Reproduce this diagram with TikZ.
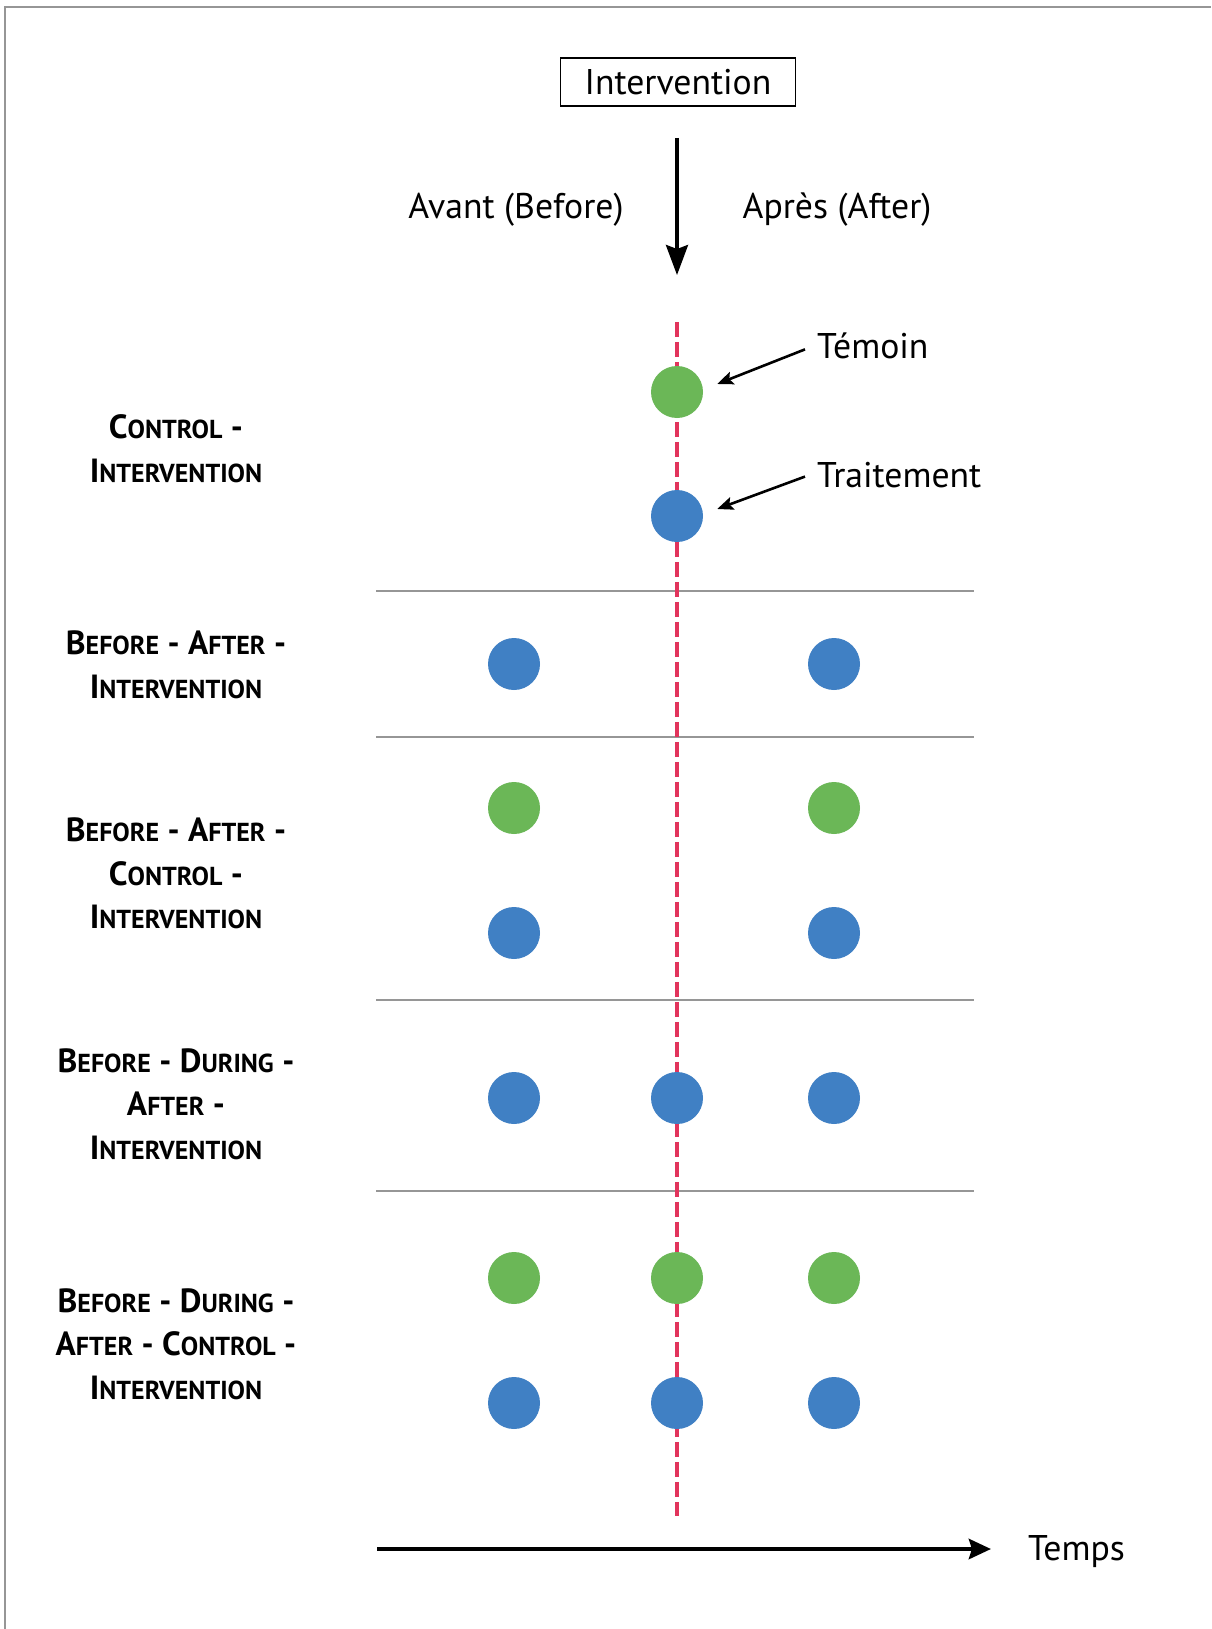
\documentclass[tikz,border=0pt]{standalone}
\usepackage{fontspec}
\setmainfont{PT Sans}
\usetikzlibrary{arrows.meta,calc}
\definecolor{dotgreen}{RGB}{107,183,87}
\definecolor{dotblue}{RGB}{64,128,196}
\definecolor{redline}{RGB}{226,52,92}
\definecolor{frame}{RGB}{150,150,150}
\newcommand\BC[2]{{\fontsize{33.5}{43.6}\selectfont #1}{\fontsize{26}{43.6}\selectfont #2}}
\begin{document}
\begin{tikzpicture}[x=1pt,y=-1pt,
  gdot/.style={circle,fill=dotgreen,minimum size=52pt,inner sep=0pt},
  bdot/.style={circle,fill=dotblue,minimum size=52pt,inner sep=0pt},
  lab/.style={align=center,font=\bfseries\fontsize{33.5}{43.6}\selectfont,inner sep=0pt},
  txt/.style={font=\fontsize{35.7}{40}\selectfont,inner sep=0pt},
  sep/.style={draw=frame,line width=1.5pt},
  thinarrow/.style={line width=2.6pt,-{Stealth[length=16pt,width=13pt,inset=3pt]}}
]
\useasboundingbox (0,0) rectangle (1211,1629);
\fill[white] (0,0) rectangle (1211,1629);
\draw[frame,line width=2pt] (5,1629) -- (5,7) -- (1211,7);

% top box and arrow
\node[draw,line width=1.3pt,minimum width=235pt,minimum height=48pt,inner sep=0pt,font=\fontsize{35.7}{40}\selectfont] (intv) at (678,82) {Intervention};
\coordinate (arrtop) at (677,138);
\coordinate (arrend) at (677,275);
\draw[line width=3.6pt,-{Stealth[length=30pt,width=22pt,inset=4pt]}] (arrtop) -- (arrend);
\node[txt,anchor=base] (avant) at (516,219) {Avant (Before)};
\node[txt,anchor=base] (apres) at (837,219) {Après (After)};

% separators
\foreach \yy in {591,737,1000,1191} \draw[sep] (376,\yy) -- (974,\yy);

% dashed red line
\coordinate (rtop) at (677,322);
\coordinate (rbot) at (677,1516);
\draw[redline,line width=3.4pt,dash pattern=on 15pt off 5pt] (rtop) -- (rbot);

% row 1
\node[gdot] (g1) at (677,392) {};
\node[bdot] (b1) at (677,516) {};
\node[txt,anchor=base west] (temoin) at (817,358) {Témoin};
\node[txt,anchor=base west] (trait) at (817,487) {Traitement};
\draw[thinarrow] ($(temoin.west)+(-12,4)$) -- ($(g1.east)+(14,-8)$);
\draw[thinarrow] ($(trait.west)+(-12,2)$) -- ($(b1.east)+(14,-7)$);

% row 2
\node[bdot] (b2a) at (514,664) {};
\node[bdot] (b2c) at (834,664) {};

% row 3
\node[gdot] (g3a) at (514,808) {};
\node[gdot] (g3c) at (834,808) {};
\node[bdot] (b3a) at (514,933) {};
\node[bdot] (b3c) at (834,933) {};

% row 4
\node[bdot] (b4a) at (514,1098) {};
\node[bdot] (b4b) at (677,1098) {};
\node[bdot] (b4c) at (834,1098) {};

% row 5
\node[gdot] (g5a) at (514,1278) {};
\node[gdot] (g5b) at (677,1278) {};
\node[gdot] (g5c) at (834,1278) {};
\node[bdot] (b5a) at (514,1403) {};
\node[bdot] (b5b) at (677,1403) {};
\node[bdot] (b5c) at (834,1403) {};

% labels
\node[lab] (l1) at (176,448.5) {\BC{C}{ONTROL} -\\\BC{I}{NTERVENTION}};
\node[lab] (l2) at (176,664.5) {\BC{B}{EFORE} - \BC{A}{FTER} -\\\BC{I}{NTERVENTION}};
\node[lab] (l3) at (176,873.5) {\BC{B}{EFORE} - \BC{A}{FTER} -\\\BC{C}{ONTROL} -\\\BC{I}{NTERVENTION}};
\node[lab] (l4) at (176,1104) {\BC{B}{EFORE} - \BC{D}{URING} -\\\BC{A}{FTER} -\\\BC{I}{NTERVENTION}};
\node[lab] (l5) at (176,1344) {\BC{B}{EFORE} - \BC{D}{URING} -\\\BC{A}{FTER} - \BC{C}{ONTROL} -\\\BC{I}{NTERVENTION}};

% time axis
\coordinate (t0) at (377,1549);
\coordinate (t1) at (991,1549);
\draw[line width=4.5pt,-{Stealth[length=22pt,width=20pt,inset=3pt]}] (t0) -- (t1);
\node[txt,anchor=base west] (temps) at (1028,1560) {Temps};
\end{tikzpicture}
\end{document}
